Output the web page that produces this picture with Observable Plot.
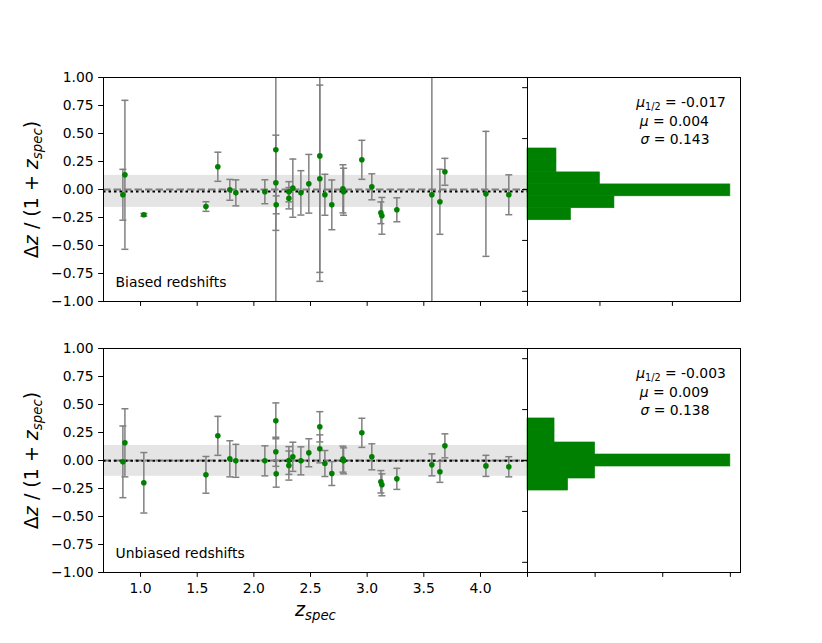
<!DOCTYPE html>
<html><head><meta charset="utf-8">
<script src="https://cdn.jsdelivr.net/npm/d3@7"></script>
<script src="https://cdn.jsdelivr.net/npm/@observablehq/plot@0.6"></script>
<style>
body{margin:0;background:#fff;}
#fig{position:relative;width:822px;height:643px;font-family:"DejaVu Sans",sans-serif;}
#fig svg{position:absolute;left:0;top:0;}
</style></head><body><div id="fig"></div>
<script>
// ---------------- data ----------------
const zspec = [0.844, 0.862, 1.029, 1.577, 1.682, 1.788, 1.841, 2.097, 2.194, 2.194, 2.197, 2.309, 2.309, 2.344, 2.415, 2.485, 2.582, 2.582, 2.627, 2.688, 2.786, 2.792, 2.953, 3.041, 3.121, 3.130, 3.262, 3.571, 3.642, 3.686, 4.048, 4.250];
const dzBiased = [-0.047, 0.131, -0.226, -0.152, 0.203, -0.003, -0.030, -0.020, 0.354, 0.060, -0.137, -0.020, -0.078, 0.012, -0.030, 0.051, 0.300, 0.096, -0.047, -0.137, 0.006, -0.020, 0.265, 0.024, -0.208, -0.235, -0.181, -0.047, -0.110, 0.158, -0.039, -0.047];
const errBiased = [0.227, 0.665, 0.012, 0.043, 0.130, 0.093, 0.116, 0.107, 1.60, 0.425, 0.080, 0.090, 0.095, 0.260, 0.198, 0.262, 1.12, 0.836, 0.183, 0.222, 0.215, 0.210, 0.174, 0.116, 0.097, 0.164, 0.107, 1.60, 0.290, 0.120, 0.558, 0.178];
const dzUnbiased = [-0.012, 0.158, -0.199, -0.128, 0.220, 0.015, -0.003, -0.003, 0.354, 0.078, -0.119, 0.000, -0.045, 0.033, -0.003, 0.069, 0.301, 0.104, -0.027, -0.116, 0.012, -0.003, 0.247, 0.033, -0.190, -0.217, -0.164, -0.039, -0.101, 0.131, -0.048, -0.056];
const errUnbiased = [0.320, 0.304, 0.270, 0.164, 0.174, 0.161, 0.147, 0.134, 0.160, 0.130, 0.119, 0.124, 0.130, 0.130, 0.125, 0.125, 0.135, 0.125, 0.116, 0.107, 0.116, 0.116, 0.130, 0.116, 0.100, 0.098, 0.094, 0.098, 0.094, 0.107, 0.094, 0.090];

const panelLabels = ["Biased redshifts", "Unbiased redshifts"];
const statMedian = [-0.017, -0.003];
const statMean = [0.004, 0.009];
const statSigma = [0.143, 0.138];

const histEdgesBiased = [-0.302, -0.184, -0.067, 0.050, 0.168, 0.285, 0.403];
const histCountsBiased = [3, 6, 14, 5, 2, 2];
const histEdgesUnbiased = [-0.295, -0.177, -0.059, 0.059, 0.177, 0.295, 0.413];
const histCountsUnbiased = [3, 5, 15, 5, 2, 2];

const xDomain = [0.673, 4.415];
const yDomain = [-1, 1];
const xTicks = [1.0, 1.5, 2.0, 2.5, 3.0, 3.5, 4.0];
const yTicks = [-1.0, -0.75, -0.5, -0.25, 0.0, 0.25, 0.5, 0.75, 1.0];
const histYDomain = [-1.1, 1.1];
const histYTicks = [-1.0, -0.5, 0.0, 0.5, 1.0];
const histXMax = [14.7, 15.75];
const histXTicks = [[0, 5, 10], [0, 5, 10, 15]];

// ---------------- layout ----------------
const W = 822, H = 643;
const mainLeft = 103, mainRight = 527, histRight = 740;
const rows = [{top: 77, bottom: 301}, {top: 348, bottom: 572}];
const FONT = "DejaVu Sans";
const fig = document.getElementById("fig");

const capSymbol = {draw(ctx, size) { const r = Math.sqrt(size / Math.PI); ctx.moveTo(-r, 0); ctx.lineTo(r, 0); }};

function rich(svg, plain, parts, subSize, subDy) {
  d3.select(svg).selectAll("text").filter(function () { return this.textContent === plain; }).each(function () {
    const t = d3.select(this);
    t.text(null);
    let shift = 0;
    for (const p of parts) {
      const ts = t.append("tspan").text(p.t);
      if (p.i) ts.attr("font-style", "italic");
      const target = p.sub ? subDy : 0;
      if (target !== shift) { ts.attr("dy", target - shift); shift = target; }
      if (p.sub) ts.attr("font-size", subSize);
    }
  });
}

function mainPanel(k, dz, err, showX) {
  const {top, bottom} = rows[k];
  const idx = d3.range(zspec.length);
  const med = statMedian[k], sig = statSigma[k];
  const marks = [
    Plot.rect([0], {x1: () => xDomain[0], x2: () => xDomain[1], y1: () => med - sig, y2: () => med + sig, fill: "#e5e5e5"}),
    Plot.ruleY([0], {stroke: "gray", strokeWidth: 2, strokeDasharray: "7.5,3"}),
    Plot.ruleY([med], {stroke: "black", strokeWidth: 2, strokeDasharray: "2.5,3"}),
    Plot.ruleX(idx, {x: i => zspec[i], y1: i => dz[i] - err[i], y2: i => dz[i] + err[i], stroke: "gray", strokeWidth: 1.5, clip: true}),
    Plot.dot(idx, {x: i => zspec[i], y: i => dz[i] - err[i], symbol: capSymbol, r: 3.5, fill: "none", stroke: "gray", strokeWidth: 1.5, clip: true}),
    Plot.dot(idx, {x: i => zspec[i], y: i => dz[i] + err[i], symbol: capSymbol, r: 3.5, fill: "none", stroke: "gray", strokeWidth: 1.5, clip: true}),
    Plot.dot(idx, {x: i => zspec[i], y: i => dz[i], r: 2.8, fill: "green", stroke: "none"}),
    Plot.text([panelLabels[k]], {frameAnchor: "bottom-left", textAnchor: "start", lineAnchor: "bottom", dx: 12, dy: -15, fontSize: 13.9, fill: "black"}),
    Plot.text(["Δz / (1 + zspec)"], {frameAnchor: "left", textAnchor: "middle", lineAnchor: "middle", rotate: -90, dx: -72, fontSize: 19, fill: "black"}),
    Plot.axisY({ticks: yTicks, tickFormat: d3.format(".2f"), tickSize: 4.9, tickPadding: 5, label: null}),
    Plot.axisX({ticks: xTicks, tickFormat: showX ? d3.format(".1f") : () => "", tickSize: 4.9, tickPadding: 6, label: null}),
    Plot.frame({stroke: "black", strokeWidth: 1})
  ];
  if (showX) marks.push(Plot.text(["zspec"], {frameAnchor: "bottom", textAnchor: "middle", lineAnchor: "bottom", dy: 43, fontSize: 19, fill: "black"}));
  const svg = Plot.plot({
    width: W, height: H,
    marginLeft: mainLeft, marginRight: W - mainRight, marginTop: top, marginBottom: H - bottom,
    style: {background: "transparent", fontFamily: FONT, fontSize: "13.9px", color: "black", overflow: "visible"},
    x: {domain: xDomain},
    y: {domain: yDomain},
    marks
  });
  rich(svg, "Δz / (1 + zspec)", [{t: "Δ"}, {t: "z", i: true}, {t: " / (1 + "}, {t: "z", i: true}, {t: "spec", i: true, sub: true}, {t: ")"}], 13.3, 4.5);
  rich(svg, "zspec", [{t: "z", i: true}, {t: "spec", i: true, sub: true}], 13.3, 4.5);
  fig.appendChild(svg);
}

function histPanel(k, edges, counts) {
  const {top, bottom} = rows[k];
  const bins = d3.range(counts.length);
  const lines = [
    {plain: "μ1/2 = " + statMedian[k].toFixed(3), dx: 108.7, dy: 29},
    {plain: "μ = " + statMean[k].toFixed(3), dx: 112.3, dy: 48.7},
    {plain: "σ = " + statSigma[k].toFixed(3), dx: 113, dy: 66.3}
  ];
  const svg = Plot.plot({
    width: W, height: H,
    marginLeft: mainRight, marginRight: W - histRight, marginTop: top, marginBottom: H - bottom,
    style: {background: "transparent", fontFamily: FONT, fontSize: "13.9px", color: "black", overflow: "visible"},
    x: {domain: [0, histXMax[k]]},
    y: {domain: histYDomain},
    marks: [
      Plot.rect(bins, {x1: () => 0, x2: i => counts[i], y1: i => edges[i], y2: i => edges[i + 1], fill: "green", stroke: "green", strokeWidth: 0.6}),
      ...lines.map(l => Plot.text([l.plain], {frameAnchor: "top-left", textAnchor: "start", lineAnchor: "bottom", dx: l.dx, dy: l.dy, fontSize: 13.9, fill: "black"})),
      Plot.axisY({ticks: histYTicks, tickFormat: () => "", tickSize: 4.9, label: null}),
      Plot.axisX({ticks: histXTicks[k], tickFormat: () => "", tickSize: 4.9, label: null}),
      Plot.frame({stroke: "black", strokeWidth: 1})
    ]
  });
  rich(svg, lines[0].plain, [{t: "μ", i: true}, {t: "1/2", sub: true}, {t: " = " + statMedian[k].toFixed(3)}], 9.7, 3);
  rich(svg, lines[1].plain, [{t: "μ", i: true}, {t: " = " + statMean[k].toFixed(3)}], 9.7, 3);
  rich(svg, lines[2].plain, [{t: "σ", i: true}, {t: " = " + statSigma[k].toFixed(3)}], 9.7, 3);
  fig.appendChild(svg);
}

mainPanel(0, dzBiased, errBiased, false);
histPanel(0, histEdgesBiased, histCountsBiased);
mainPanel(1, dzUnbiased, errUnbiased, true);
histPanel(1, histEdgesUnbiased, histCountsUnbiased);
</script></body></html>
